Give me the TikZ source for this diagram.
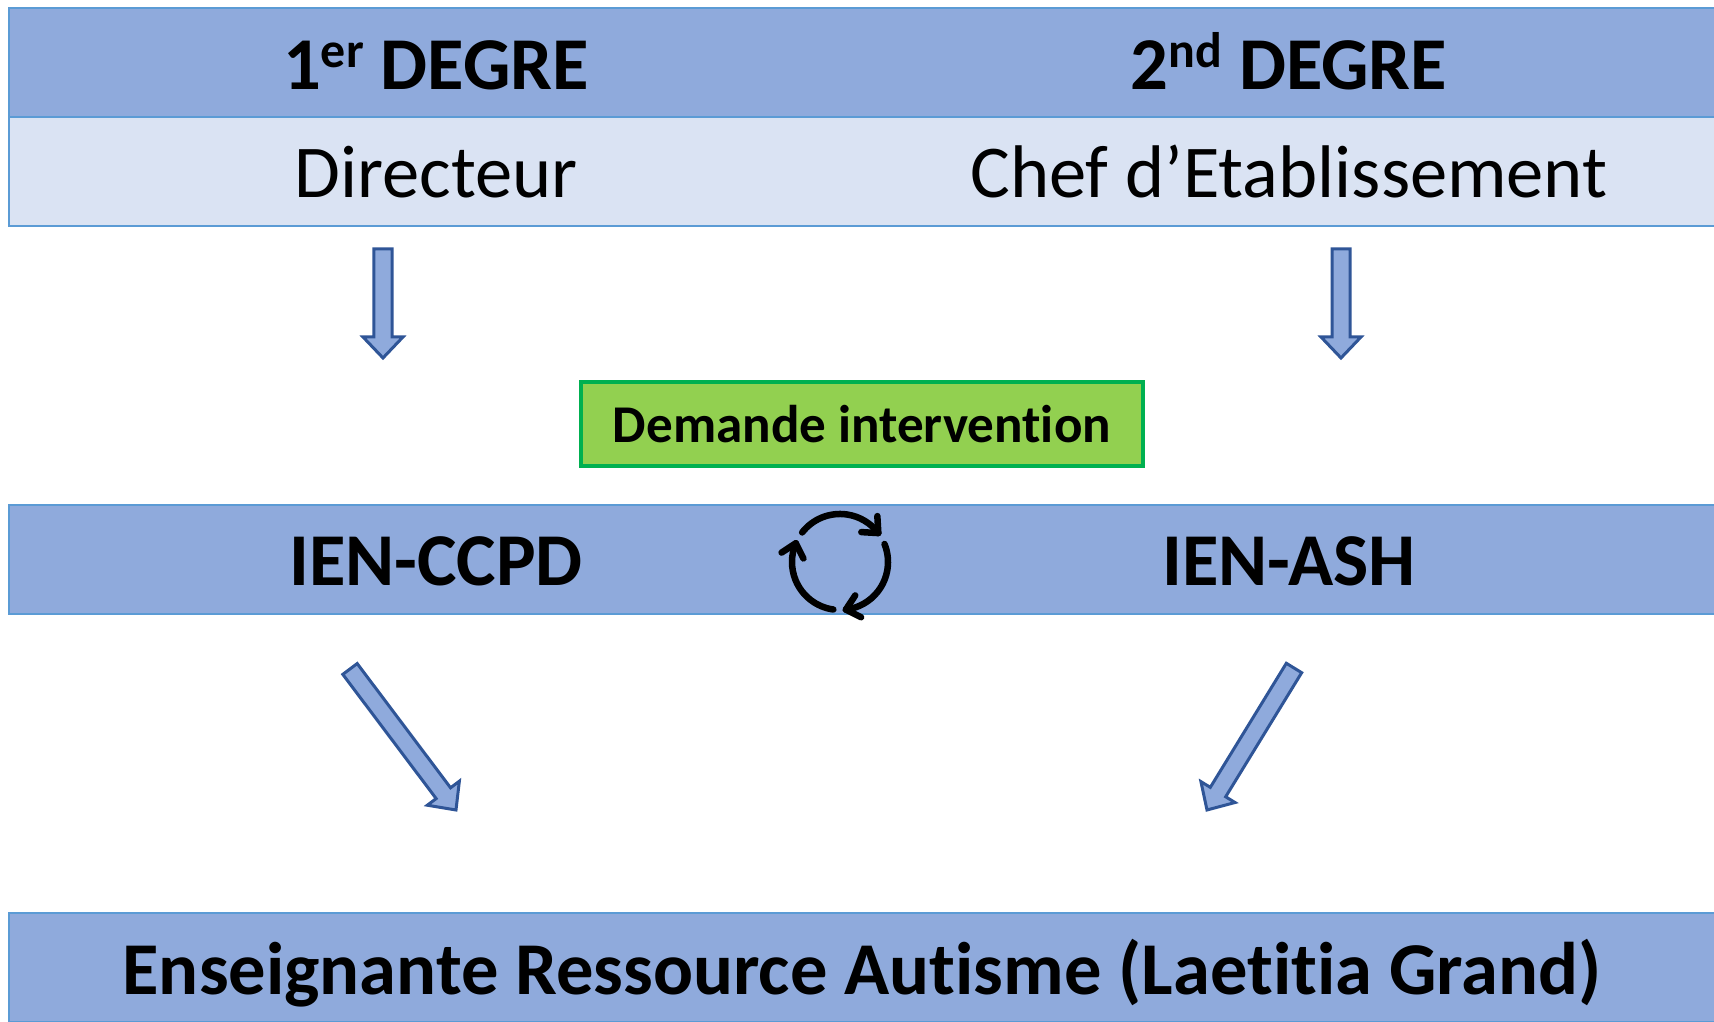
\documentclass[tikz,border=0pt]{standalone}
\usepackage{fontspec}
\setmainfont[Ligatures=CommonOff]{Carlito}
\usepackage{xcolor}
\usetikzlibrary{positioning,calc}

\definecolor{bandblue}{HTML}{8FAADC}
\definecolor{bandlight}{HTML}{DAE3F3}
\definecolor{bandline}{HTML}{5B9BD5}
\definecolor{arrowline}{HTML}{2F5597}
\definecolor{boxgreen}{HTML}{92D050}
\definecolor{boxline}{HTML}{00B050}

\newcommand{\degreesup}[1]{\raisebox{0.3em}{\fontsize{14.2}{15}\selectfont #1}}

\tikzset{
    band/.style={draw=bandline, fill=#1, line width=0.026cm, rectangle, anchor=north west,
        minimum width=17.3cm, minimum height=1.09cm, inner sep=0pt, outer sep=0pt},
    titletext/.style={font=\fontsize{21.2}{24}\selectfont\bfseries, inner sep=0pt, anchor=base},
    subtext/.style={font=\fontsize{21.2}{24}\selectfont, inner sep=0pt, anchor=base},
    blockarrow/.style={draw=arrowline, fill=bandblue, line width=0.03cm, to path={
        ($(\tikztotarget)!0.21cm!(\tikztostart)$) coordinate (neck)
        ($(\tikztostart)!0.09cm!90:(\tikztotarget)$)
        -- ($(neck)!0.09cm!90:(\tikztotarget)$)
        -- ($(neck)!0.2cm!90:(\tikztotarget)$)
        -- (\tikztotarget)
        -- ($(neck)!0.2cm!-90:(\tikztotarget)$)
        -- ($(neck)!0.09cm!-90:(\tikztotarget)$)
        -- ($(\tikztostart)!0.09cm!-90:(\tikztotarget)$) -- cycle}},
    cycleline/.style={line width=0.065cm, line cap=round, line join=round}
}

\begin{document}
\begin{tikzpicture}[x=0.01cm, y=0.01cm]
    \clip (0,0) rectangle (1714,1022);

    \node (degrees) [band=bandblue] at (9,1014) {};
    \node (roles) [band=bandlight, below=0pt of degrees] {};
    \node (ien) [band=bandblue] at (9,517) {};
    \node (ressource) [band=bandblue] at (9,109) {};

    \node (premier) [titletext] at (436,932) {1\degreesup{er} DEGRE};
    \node (second) [titletext] at (1289,932) {2\degreesup{nd} DEGRE};
    \node (directeur) [subtext] at (436,824) {Directeur};
    \node (chef) [subtext] at (1289,824) {Chef d’Etablissement};
    \node (ccpd) [titletext] at (436,436) {IEN-CCPD};
    \node (ash) [titletext] at (1289,436) {IEN-ASH};
    \node (enseignante) [titletext] at (862,27) {Enseignante Ressource Autisme (Laetitia Grand)};

    \node (demande) [draw=boxline, fill=boxgreen, line width=0.035cm, rectangle,
        minimum width=5.62cm, minimum height=0.84cm, inner sep=0pt,
        font=\fontsize{15.1}{18}\selectfont\bfseries] at (862,598) {Demande intervention};

    % block arrows
    \coordinate (dirtop) at (383,773);
    \coordinate (dirend) at (383,664);
    \coordinate (cheftop) at (1341,773);
    \coordinate (chefend) at (1341,664);
    \coordinate (ccpdtop) at (350,353);
    \coordinate (ccpdend) at (456,212);
    \coordinate (ashtop) at (1294,354);
    \coordinate (ashend) at (1207,212);
    \draw[blockarrow] (dirtop) to (dirend);
    \draw[blockarrow] (cheftop) to (chefend);
    \draw[blockarrow] (ccpdtop) to (ccpdend);
    \draw[blockarrow] (ashtop) to (ashend);

    % cycle between the two inspectors
    \foreach \turn in {0,-120,-240} {
        \begin{scope}[shift={(840,460)}, rotate=\turn]
            \draw[cycleline] (142:48) arc[start angle=142, end angle=37, radius=48];
            \draw[cycleline] ($(37:48)+(-1,17)$) -- (37:48) -- ($(37:48)+(-17,1)$);
        \end{scope}
    }
\end{tikzpicture}
\end{document}
